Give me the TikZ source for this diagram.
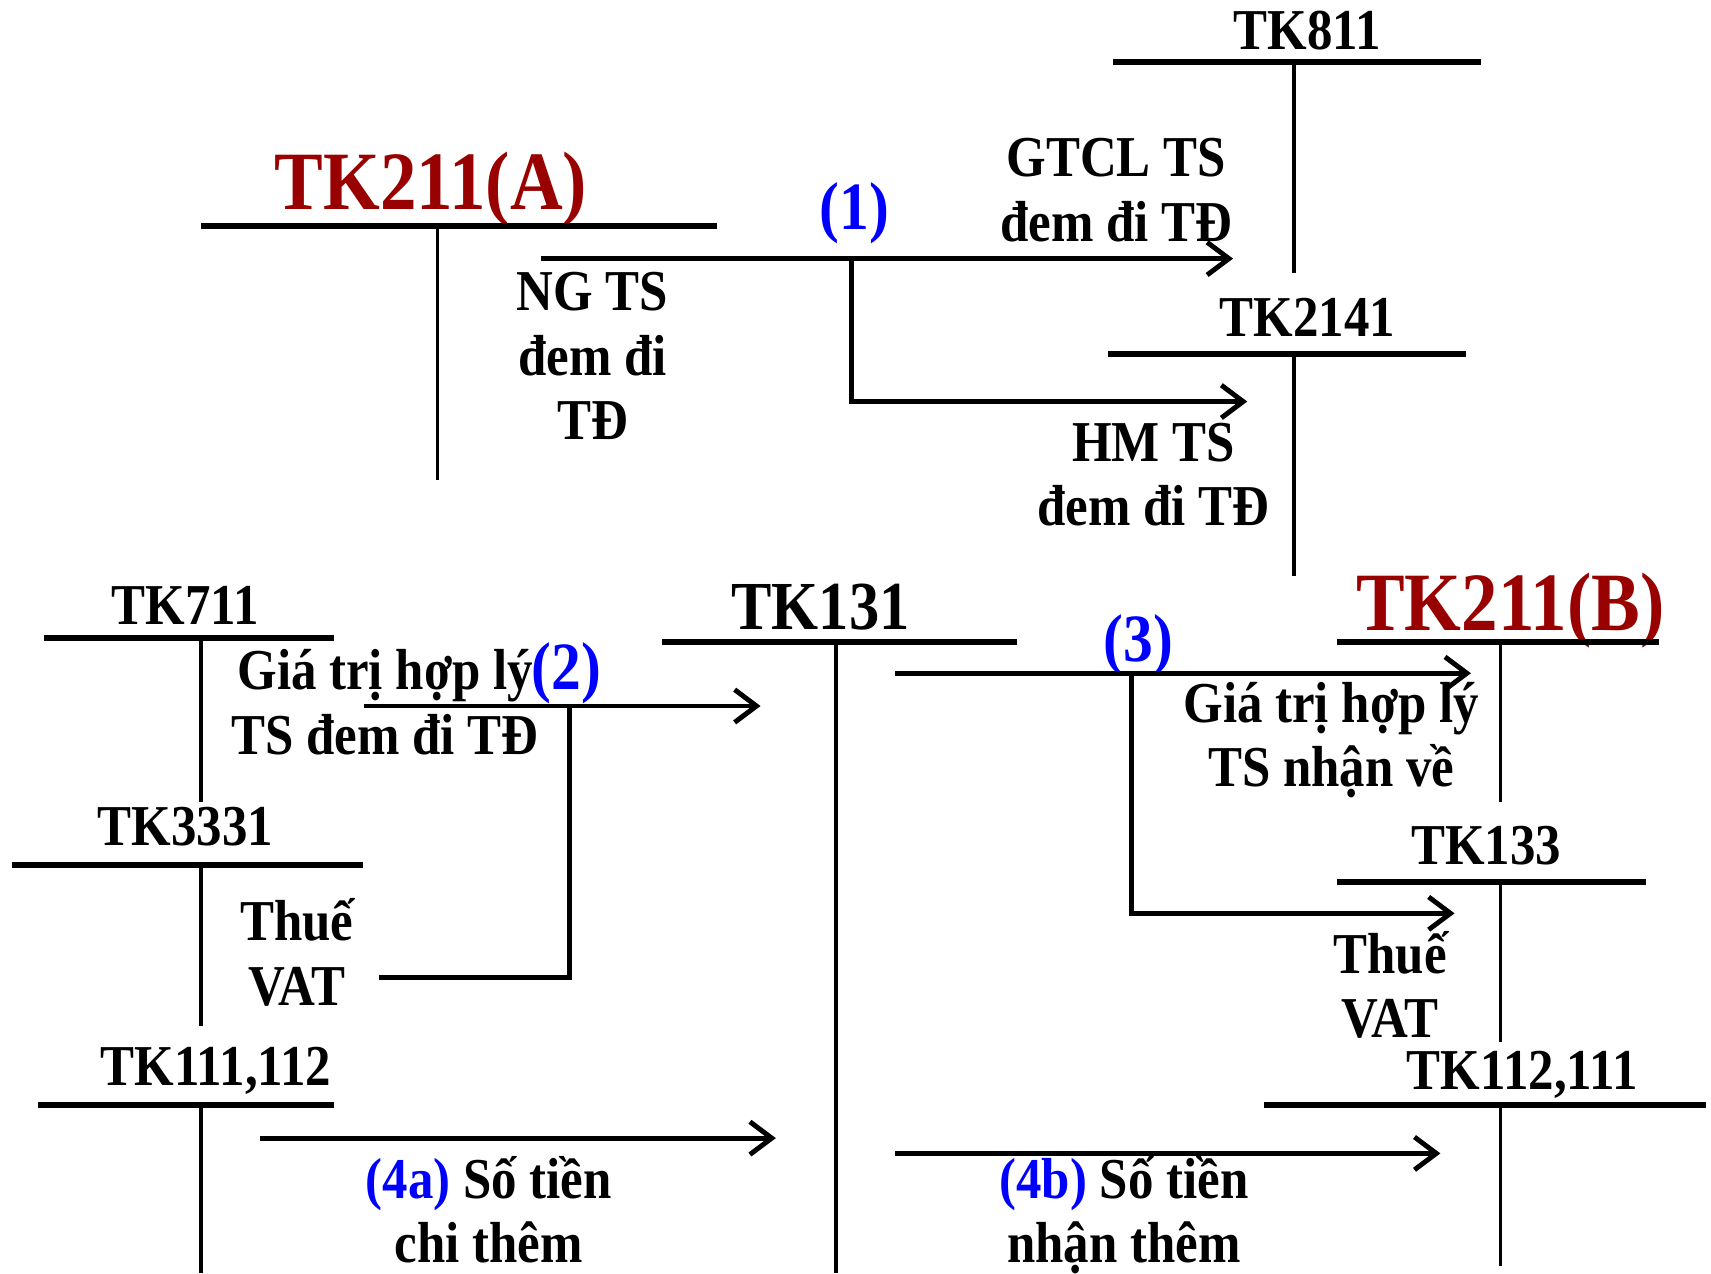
\documentclass[tikz,border=0pt]{standalone}
\usepackage{fontspec}
\newfontfamily\tkfont{Liberation Serif}[FakeStretch=0.88]
\usetikzlibrary{arrows.meta}
\definecolor{acred}{RGB}{153,0,0}
\definecolor{numblue}{RGB}{0,0,255}
\tikzset{
  lbl/.style={font=\tkfont\bfseries\fontsize{53}{59}\selectfont, align=center, inner sep=0, anchor=base},
  mid/.style={font=\tkfont\bfseries\fontsize{63}{66}\selectfont, inner sep=0, anchor=base},
  big/.style={font=\tkfont\bfseries\fontsize{76}{80}\selectfont, text=acred, inner sep=0, anchor=base},
  num/.style={font=\tkfont\bfseries\fontsize{62}{66}\selectfont, text=numblue, inner sep=0, anchor=base},
  bar/.style={line width=5.5pt},
  post/.style={line width=3.5pt},
  link/.style={line width=4.5pt},
  flow/.style={line width=4.5pt, -{Straight Barb[length=20pt,width=30pt,line width=4.5pt]}},
}
\begin{document}
\begin{tikzpicture}[x=1pt, y=-1pt]
\useasboundingbox (0,0) rectangle (1568,1167);

% account names
\node[lbl] (t811)  at (1198,45)  {TK811};
\node[lbl] (t2141) at (1198,308) {TK2141};
\node[big] (t211a) at (395,192)  {TK211(A)};
\node[lbl] (t711)  at (170,572)  {TK711};
\node[mid] (t131)  at (752,577)  {TK131};
\node[big] (t211b) at (1384,578) {TK211(B)};
\node[lbl] (t3331) at (170,775)  {TK3331};
\node[lbl] (t133)  at (1362,792) {TK133};
\node[lbl] (t111)  at (198,995)  {TK111,112};
\node[lbl] (t112)  at (1395,998) {TK112,111};

% T accounts
\draw[bar] (1020,57) -- (1357,57);   \draw[post] (1186,57) -- (1186,250);
\draw[bar] (1015,324) -- (1343,324); \draw[post] (1186,324) -- (1186,528);
\draw[bar] (184,207) -- (657,207);   \draw[post] (401,207) -- (401,440);
\draw[bar] (40,585) -- (306,585);    \draw[post] (184,585) -- (184,735);
\draw[bar] (607,588) -- (932,588);   \draw[post] (766,588) -- (766,1167);
\draw[bar] (1225,588) -- (1520,588); \draw[post] (1375,588) -- (1375,735);
\draw[bar] (11,793) -- (333,793);    \draw[post] (184,793) -- (184,940);
\draw[bar] (1225,808) -- (1508,808); \draw[post] (1375,808) -- (1375,955);
\draw[bar] (35,1013) -- (306,1013);  \draw[post] (184,1013) -- (184,1167);
\draw[bar] (1158,1013) -- (1563,1013); \draw[post] (1375,1013) -- (1375,1160);

% step numbers
\node[num] (n1) at (783,210) {(1)};
\node[num, anchor=base west] (n2) at (487,632) {(2)};
\node[num] (n3) at (1043,606) {(3)};

% texts (placed at the baseline of their last line)
\node[lbl] (gtcl) at (1023,221) {GTCL TS\\đem đi TĐ};
\node[lbl] (ngts) at (543,403)  {NG TS\\đem đi\\TĐ};
\node[lbl] (hmts) at (1057,482) {HM TS\\đem đi TĐ};
\node[lbl] (gtdi) at (353,691)  {Giá trị hợp lý\\TS đem đi TĐ};
\node[lbl] (gtve) at (1220,721) {Giá trị hợp lý\\TS nhận về};
\node[lbl] (vata) at (272,921)  {Thuế\\VAT};
\node[lbl] (vatb) at (1274,951) {Thuế\\VAT};
\node[lbl] (chi)  at (448,1157) {{\color{numblue}(4a)} Số tiền\\chi thêm};
\node[lbl] (thu)  at (1030,1157) {{\color{numblue}(4b)} Số tiền\\nhận thêm};

% connectors
\coordinate (s1) at (496,237);  \coordinate (j1) at (780,237);
\coordinate (e1) at (1130,237); \coordinate (f1) at (1143,368);
\coordinate (s2) at (334,647);  \coordinate (j2) at (522,647);
\coordinate (e2) at (697,647);  \coordinate (v2) at (347,896);
\coordinate (s3) at (820,617);  \coordinate (j3) at (1037,617);
\coordinate (e3) at (1348,617); \coordinate (f3) at (1333,837);
\coordinate (s4) at (238,1043); \coordinate (e4) at (711,1043);
\coordinate (s5) at (820,1057); \coordinate (e5) at (1320,1057);

\draw[flow] (s1) -- (e1);
\draw[flow] (j1) |- (f1);
\draw[flow] (s2) -- (e2);
\draw[link] (v2) -| (j2);
\draw[flow] (s3) -- (e3);
\draw[flow] (j3) |- (f3);
\draw[flow] (s4) -- (e4);
\draw[flow] (s5) -- (e5);
\end{tikzpicture}
\end{document}
